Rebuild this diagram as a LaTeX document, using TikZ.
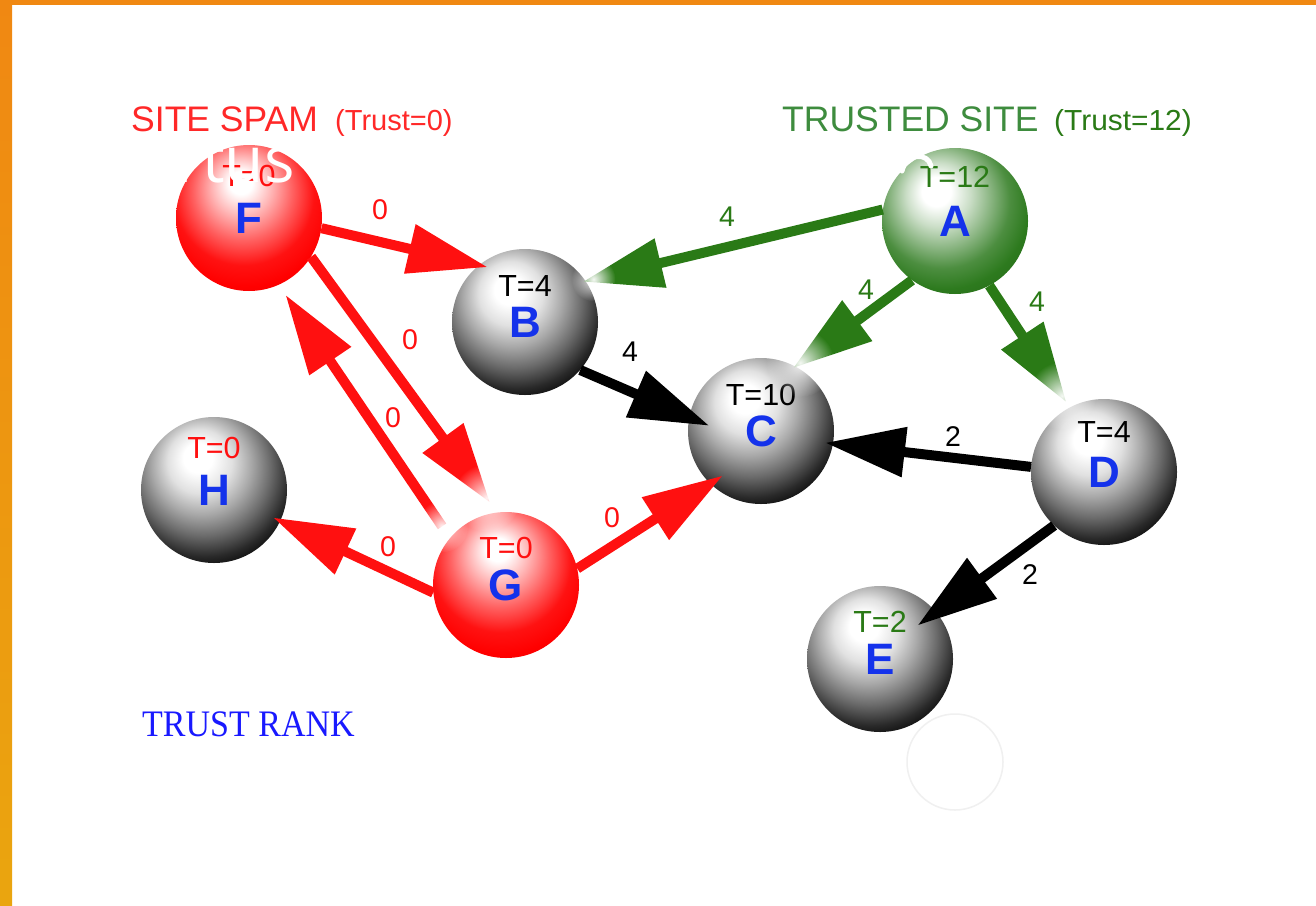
\documentclass[tikz,border=0pt]{standalone}
\usepackage{fontspec}
\setmainfont{Liberation Sans}
\newfontfamily\serifrm{Liberation Serif}
\newfontfamily\opensans{Open Sans}
\usetikzlibrary{arrows.meta,calc,fadings}

\definecolor{spamred}{RGB}{255,16,16}
\definecolor{headred}{RGB}{255,40,40}
\definecolor{trustgreen}{RGB}{42,122,22}
\definecolor{headgreen}{RGB}{62,140,62}
\definecolor{letterblue}{RGB}{20,50,235}
\definecolor{rankblue}{RGB}{25,25,255}
\definecolor{frameorange}{RGB}{240,136,18}
\definecolor{framegold}{RGB}{234,165,15}
\definecolor{ballgreen}{RGB}{45,122,30}

% sphere shadings (the circle covers radius 25bp): highlight above, a little left
\pgfdeclareradialshading{sphgray}{\pgfpoint{-6bp}{12bp}}{%
  color(0bp)=(white); color(5bp)=(white); color(11bp)=(black!12);
  color(17bp)=(black!34); color(23bp)=(black!58); color(29bp)=(black!84);
  color(34bp)=(black); color(60bp)=(black)}
\pgfdeclareradialshading{sphred}{\pgfpoint{-3bp}{13bp}}{%
  color(0bp)=(white); color(4bp)=(white); color(10bp)=(red!28);
  color(17bp)=(red!62); color(24bp)=(red!93); color(30bp)=(red);
  color(40bp)=(red!88!black); color(60bp)=(red!85!black)}
\pgfdeclareradialshading{sphgreen}{\pgfpoint{-7bp}{11bp}}{%
  color(0bp)=(white); color(5bp)=(white); color(11bp)=(ballgreen!25);
  color(17bp)=(ballgreen!55); color(23bp)=(ballgreen!85); color(29bp)=(ballgreen);
  color(40bp)=(ballgreen!80!black); color(60bp)=(ballgreen!75!black)}

% soft whitening used at the faded ends of some links
\tikzfading[name=tipfade, inner color=transparent!5, outer color=transparent!100]

\tikzset{
  ball/.style={circle, minimum size=146pt, inner sep=0pt, shade,
    text=letterblue, font=\fontsize{44}{44}\selectfont\bfseries},
  grayball/.style={ball, shading=sphgray},
  redball/.style={ball, shading=sphred},
  greenball/.style={ball, shading=sphgreen},
  tval/.style={inner sep=0pt, font=\fontsize{30.5}{30.5}\selectfont},
  wlabel/.style={inner sep=0pt, font=\fontsize{28.5}{28.5}\selectfont},
  link/.style={line width=10pt, -{Triangle[length=80pt,width=48pt]}},
  redlink/.style={link, draw=spamred, fill=spamred},
  greenlink/.style={link, draw=trustgreen, fill=trustgreen},
  blacklink/.style={link, draw=black, fill=black},
  softend/.style={white, path fading=tipfade},
  header/.style={inner sep=0pt, anchor=base west, font=\fontsize{35.5}{35.5}\selectfont},
  headnote/.style={inner sep=0pt, anchor=base west, font=\fontsize{29}{29}\selectfont},
}

\begin{document}
\begin{tikzpicture}[x=1pt, y=-1pt]
  % page and frame
  \fill[white] (0,0) rectangle (1316,905);
  \useasboundingbox (0,0) rectangle (1316,905);
  \shade[top color=frameorange, bottom color=framegold] (0,0) rectangle (12,905);
  \fill[frameorange] (0,0) rectangle (1316,5);

  % headings
  \node[header, text=headred] (spamhead) at (131,131) {SITE SPAM};
  \node[headnote, text=headred] (spamnote) at (335,130) {(Trust=0)};
  \node[header, text=headgreen] (trusthead) at (782,131) {TRUSTED SITE};
  \node[headnote, text=trustgreen, xscale=1.03] (trustnote) at (1054,130) {(Trust=12)};
  \node[inner sep=0pt, anchor=base west, text=rankblue,
        font=\serifrm\fontsize{34}{34}\selectfont, yscale=1.1] (rank) at (142,736) {TRUST RANK};

  % faint ghost circle
  \draw[black!6, line width=1.5pt] (955,762) circle (48);

  % pages
  \node[redball]   (F) at (249,218) {F};
  \node[grayball]  (B) at (525,322) {B};
  \node[greenball] (A) at (955,221) {A};
  \node[grayball]  (C) at (761,431) {C};
  \node[grayball]  (D) at (1104,472) {D};
  \node[grayball]  (H) at (214,490) {H};
  \node[redball]   (G) at (506,585) {G};
  \node[grayball]  (E) at (880,659) {E};

  % trust values
  \node[tval, text=spamred]    (Ft) at ($(F)+(0,-42)$) {T=0};
  \node[tval, text=black]      (Bt) at ($(B)+(0,-36)$) {T=4};
  \node[tval, text=trustgreen] (At) at ($(A)+(0,-44)$) {T=12};
  \node[tval, text=black]      (Ct) at ($(C)+(0,-36)$) {T=10};
  \node[tval, text=black]      (Dt) at ($(D)+(0,-40)$) {T=4};
  \node[tval, text=spamred]    (Ht) at ($(H)+(0,-42)$) {T=0};
  \node[tval, text=spamred]    (Gt) at ($(G)+(0,-37)$) {T=0};
  \node[tval, text=trustgreen] (Et) at ($(E)+(0,-37)$) {T=2};

  % links
  \draw[redlink, shorten >=-9pt]   (F.-8)   -- (B.129);
  \draw[greenlink, shorten >=-3pt] (A.171)  -- (B.34);
  \draw[blacklink, shorten >=-22pt](B.-41)  -- (C.169);
  \draw[greenlink, shorten >=-3pt] (A.234)  -- (C.62);
  \draw[greenlink, shorten >=6pt]  (A.-62)  -- (D.118);
  \draw[blacklink, shorten >=-8pt] (D.176)  -- (C.-10);
  \draw[blacklink, shorten >=-23pt](D.227)  -- (E.40);
  \draw[redlink, shorten >=12pt]   (F.-32)  -- (G.97);
  \draw[redlink, shorten <=14pt, shorten >=12pt] (G.140) -- (F.-66);
  \draw[redlink, shorten >=-8pt]   (G.186)  -- (H.-25);
  \draw[redlink, shorten >=-15pt]  (G.13)   -- (C.226);

  % faded ends of some links
  \fill[softend] ($(B.34)!8pt!(A.171)$) circle (22pt);
  \fill[softend] ($(C.62)!6pt!(A.234)$) circle (34pt);
  \fill[softend] ($(D.118)!14pt!(A.-62)$) circle (34pt);
  \fill[softend] ($(G.97)!18pt!(F.-32)$) circle (34pt);
  \fill[softend] ($(G.140)!14pt!(F.-66)$) circle (26pt);

  % link weights
  \node[wlabel, text=spamred]    (wFB) at (380,210) {0};
  \node[wlabel, text=trustgreen] (wAB) at (727,217) {4};
  \node[wlabel, text=black]      (wBC) at (630,352) {4};
  \node[wlabel, text=trustgreen] (wAC) at (866,290) {4};
  \node[wlabel, text=trustgreen] (wAD) at (1037,302) {4};
  \node[wlabel, text=black]      (wDC) at (953,437) {2};
  \node[wlabel, text=black]      (wDE) at (1030,575) {2};
  \node[wlabel, text=spamred]    (wFG) at (410,340) {0};
  \node[wlabel, text=spamred]    (wGF) at (393,418) {0};
  \node[wlabel, text=spamred]    (wGH) at (388,547) {0};
  \node[wlabel, text=spamred]    (wGC) at (612,518) {0};

  % white lettering laid over the top of the spheres
  \node[inner sep=0pt, anchor=base west, text=white,
        font=\opensans\fontsize{64}{64}\selectfont] (overlay) at (176,182) {rtus};
  \draw[white, line width=5pt, line cap=round] (902,171) .. controls (906,153) and (928,152) .. (931,166);
\end{tikzpicture}
\end{document}
